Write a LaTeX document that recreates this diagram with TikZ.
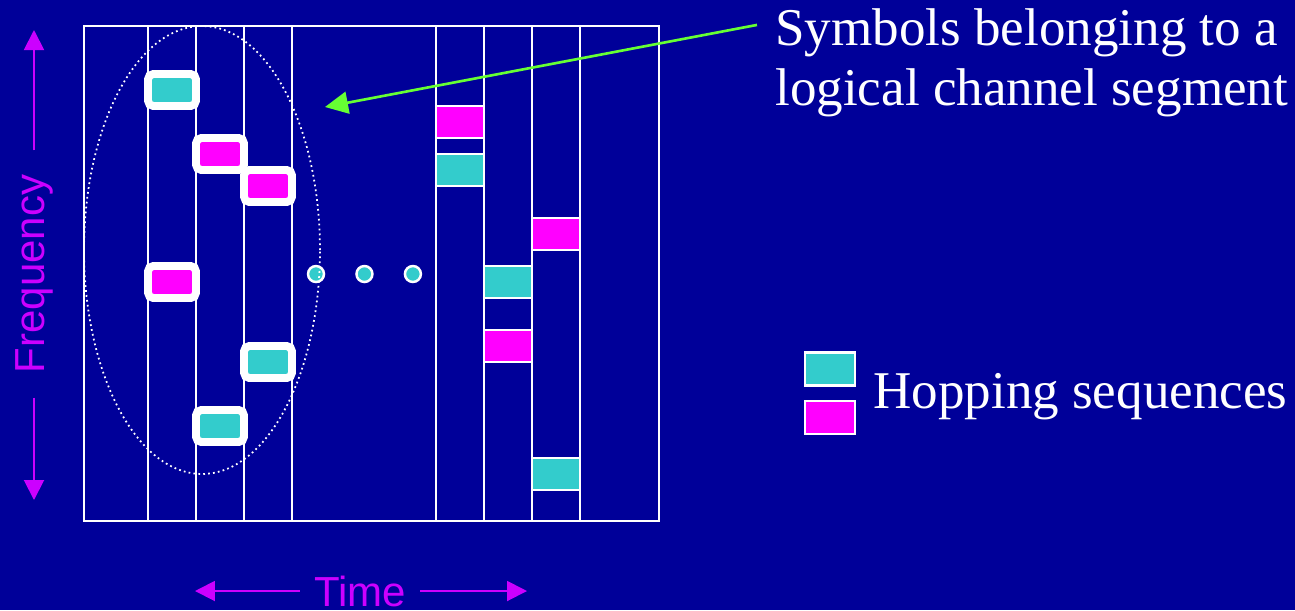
\documentclass[tikz,border=0pt]{standalone}
\usepackage{fontspec}
\setmainfont{Liberation Serif}
\setsansfont{Liberation Sans}
\usepackage{tikz}
\usetikzlibrary{arrows.meta, positioning}
\definecolor{slidebg}{RGB}{0,0,153}
\definecolor{hopcyan}{RGB}{51,204,204}
\definecolor{hopmag}{RGB}{255,0,255}
\definecolor{axispurple}{RGB}{204,0,255}
\definecolor{ptrgreen}{RGB}{102,255,51}
\tikzset{
  %% Slots of the marked segment (thick white frame)
  segbox/.style={
    rectangle, rounded corners=3pt,
    draw=white, line width=4.5pt, fill=#1,
    minimum width=0.96cm, minimum height=0.64cm, inner sep=0pt},
  %% Plain slots
  slotbox/.style={
    rectangle, draw=white, line width=1.3pt, fill=#1,
    minimum width=0.96cm, minimum height=0.64cm, inner sep=0pt},
  %% Continuation dots
  gapdot/.style={
    circle, draw=white, line width=1.4pt, fill=hopcyan,
    minimum size=0.32cm, inner sep=0pt},
  %% Text
  axislabel/.style={font=\sffamily\fontsize{23.9}{28}\selectfont, text=axispurple},
  bigtext/.style={font=\fontsize{30.2}{34.1}\selectfont, text=white, inner sep=0pt},
  %% Arrows
  axarrow/.style={-{Triangle[length=0.4cm,width=0.4cm]}, line width=1.1pt, axispurple},
  ptrarrow/.style={-{Triangle[length=0.46cm,width=0.44cm]}, line width=1.5pt, ptrgreen},
  gridline/.style={white, line width=1.3pt},
}
\begin{document}
\begin{tikzpicture}[x=0.02cm, y=-0.02cm]

  %% Background
  \fill[slidebg] (0,0) rectangle (1295,610);
  \useasboundingbox (0,0) rectangle (1295,610);

  %% Time/frequency grid
  \draw[gridline] (84,26) rectangle (659,521);
  \foreach \x in {148,196,244,292,436,484,532,580}
    \draw[gridline] (\x,26) -- (\x,521);

  %% Marked segment
  \node[segbox=hopcyan] (seg1) at (172,90)  {};
  \node[segbox=hopmag]  (seg2) at (220,154) {};
  \node[segbox=hopmag]  (seg3) at (268,186) {};
  \node[segbox=hopmag]  (seg4) at (172,282) {};
  \node[segbox=hopcyan] (seg5) at (268,362) {};
  \node[segbox=hopcyan] (seg6) at (220,426) {};

  %% Later slots
  \node[slotbox=hopmag]  (slot1) at (460,122) {};
  \node[slotbox=hopcyan] (slot2) at (460,170) {};
  \node[slotbox=hopmag]  (slot3) at (556,234) {};
  \node[slotbox=hopcyan] (slot4) at (508,282) {};
  \node[slotbox=hopmag]  (slot5) at (508,346) {};
  \node[slotbox=hopcyan] (slot6) at (556,474) {};

  %% Dots
  \node[gapdot] (dot1) at (316,274) {};
  \node[gapdot, right=0.6cm of dot1] (dot2) {};
  \node[gapdot, right=0.6cm of dot2] (dot3) {};

  %% Dotted outline round the segment
  \draw[white, line width=1pt, dash pattern=on 1pt off 1.8pt]
    (202,250) ellipse [x radius=2.36cm, y radius=4.48cm];

  %% Pointer label
  \node[bigtext, anchor=base west, align=left] (sym) at (775,105)
    {Symbols belonging to a\\logical channel segment};
  \coordinate (tip) at (325,107);
  \draw[ptrarrow] ([xshift=-0.36cm, yshift=-0.34cm]sym.north west) -- (tip);

  %% Legend
  \node[slotbox=hopcyan, minimum width=1.0cm, minimum height=0.66cm] (key1) at (830,369) {};
  \node[slotbox=hopmag,  minimum width=1.0cm, minimum height=0.66cm, below=0.26cm of key1] (key2) {};
  \node[bigtext, anchor=base west] (keytxt) at (873,408) {Hopping sequences};

  %% Axes
  \node[axislabel, rotate=90, inner xsep=0.48cm] (freq) at (34,274) {Frequency};
  \coordinate (ftop) at (34,30);
  \coordinate (fbot) at (34,500);
  \draw[axarrow] (freq.east) -- (freq.east |- ftop);
  \draw[axarrow] (freq.west) -- (freq.west |- fbot);

  \node[axislabel, inner xsep=0.28cm] (time) at (360,591) {Time};
  \coordinate (tleft) at (195,591);
  \coordinate (tright) at (527,591);
  \draw[axarrow] (time.west) -- (time.west -| tleft);
  \draw[axarrow] (time.east) -- (time.east -| tright);

\end{tikzpicture}
\end{document}
